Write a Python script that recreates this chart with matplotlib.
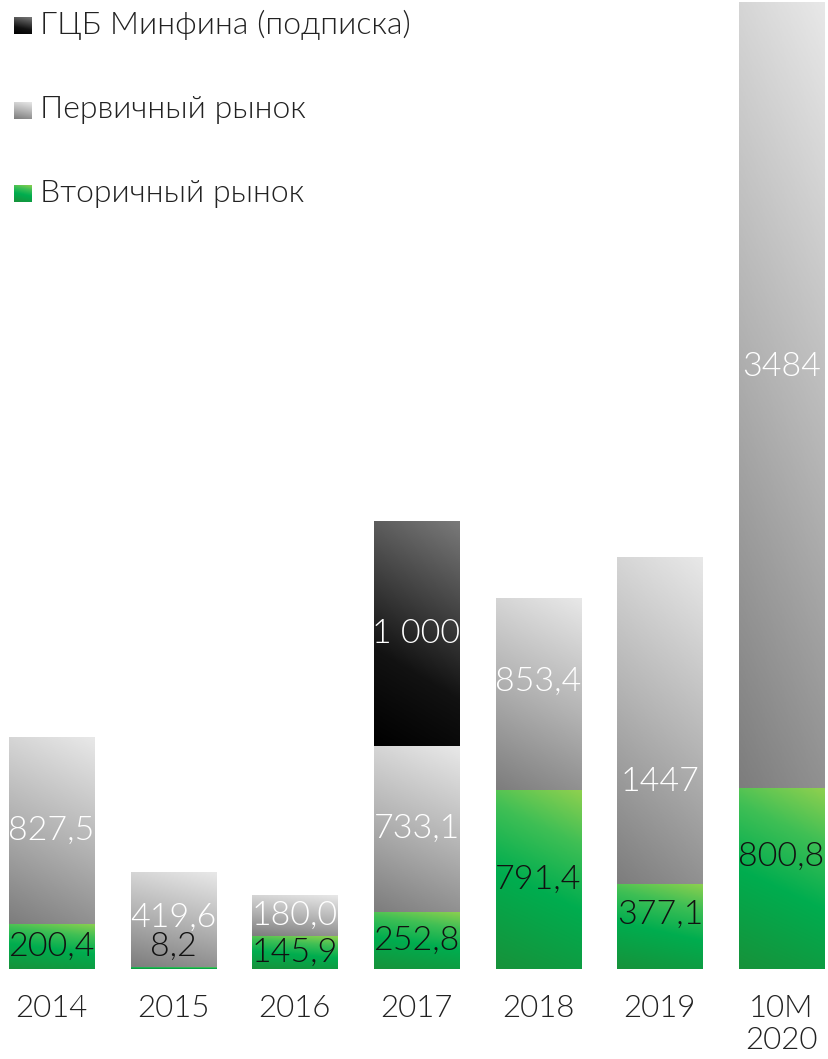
import matplotlib
matplotlib.use("Agg")
import matplotlib.pyplot as plt
import numpy as np
from matplotlib.colors import LinearSegmentedColormap

# данные
years = ["2014", "2015", "2016", "2017", "2018", "2019", "10M\n2020"]
secondary = [200.4, 8.2, 145.9, 252.8, 791.4, 377.1, 800.8]
primary = [827.5, 419.6, 180.0, 733.1, 853.4, 1447, 3484]
minfin = [0, 0, 0, 1000, 0, 0, 0]

sec_labels = ["200,4", "8,2", "145,9", "252,8", "791,4", "377,1", "800,8"]
prim_labels = ["827,5", "419,6", "180,0", "733,1", "853,4", "1447", "3484"]
minfin_labels = ["", "", "", "1 000", "", "", ""]

legend_names = ["ГЦБ Минфина (подписка)", "Первичный рынок", "Вторичный рынок"]

# сдвиг подписей относительно центра сегмента (в единицах данных)
sec_shift = [0, 95, 0, 0, 0, 50, 96]
prim_shift = [0, 8, 0, 0, 54, -272, 124]

plt.rcParams['font.family'] = ['Lato', 'DejaVu Sans']
WT = 300  # Lato Light

cmap_gray = LinearSegmentedColormap.from_list("g", ["#7d7d7d", "#b4b4b4", "#e8e8e8"])
cmap_black = LinearSegmentedColormap.from_list("b", [(0, "#000000"), (0.35, "#121212"), (1, "#7a7a7a")])
cmap_green = LinearSegmentedColormap.from_list(
    "gr", [(0, "#17923a"), (0.45, "#00ad4f"), (0.75, "#3fbf55"), (1, "#8ed04f")])

uu, vv = np.meshgrid(np.linspace(0, 1, 40), np.linspace(0, 1, 200))
grad = np.clip(0.82 * vv + 0.18 * uu, 0, 1)

fig = plt.figure(figsize=(8.29, 10.59), dpi=100)
ax = fig.add_axes([0, 90 / 1059, 1, 969 / 1059])

x = np.arange(len(years))
W = 0.7
XLIM = (-51.5 / 121.67, (829 - 51.5) / 121.67)
YLIM = (0, 4293.5)


def fill_gradient(bars, cmap):
    for p in bars.patches:
        if p.get_height() <= 0:
            continue
        x0, y0 = p.get_x(), p.get_y()
        w, h = p.get_width(), p.get_height()
        p.set_facecolor("none")
        p.set_edgecolor("none")
        im = ax.imshow(grad, extent=[x0, x0 + w, y0, y0 + h], origin="lower",
                       aspect="auto", cmap=cmap, vmin=0, vmax=1, zorder=1)
        im.set_clip_path(p)


b1 = ax.bar(x, secondary, W, color="none")
b2 = ax.bar(x, primary, W, bottom=secondary, color="none")
bottom3 = np.array(secondary) + np.array(primary)
b3 = ax.bar(x, minfin, W, bottom=bottom3, color="none")
fill_gradient(b1, cmap_green)
fill_gradient(b2, cmap_gray)
fill_gradient(b3, cmap_black)

fs = 24.5
for i in range(len(years)):
    ax.text(x[i], secondary[i] / 2 + sec_shift[i], sec_labels[i], ha="center", va="center",
            fontsize=fs, color="#111111", fontweight=WT, zorder=3)
    ax.text(x[i], secondary[i] + primary[i] / 2 + prim_shift[i], prim_labels[i],
            ha="center", va="center", fontsize=fs, color="white", fontweight=WT, zorder=3)
    if minfin[i] > 0:
        ax.text(x[i], bottom3[i] + minfin[i] / 2, minfin_labels[i], ha="center", va="center",
                fontsize=fs, color="white", fontweight=WT, zorder=3)

ax.set_xlim(*XLIM)
ax.set_ylim(*YLIM)
ax.set_xticks(x)
ax.set_xticklabels(years, fontsize=22.5, fontweight=WT, color="#222222", linespacing=1.12)
ax.tick_params(axis="x", length=0, pad=18)
ax.set_yticks([])
for s in ax.spines.values():
    s.set_visible(False)

# легенда
leg_cmaps = [cmap_black, cmap_gray, cmap_green]
leg_y = [25, 110, 193]
for name, cm, yy in zip(legend_names, leg_cmaps, leg_y):
    sq = fig.add_axes([14 / 829, 1 - (yy + 9) / 1059, 18 / 829, 17 / 1059])
    sq.imshow(grad[::5], origin="lower", aspect="auto", cmap=cm, vmin=0, vmax=1)
    sq.axis("off")
    fig.text(40 / 829, 1 - yy / 1059, name, ha="left", va="center", fontsize=23,
             fontweight=WT, color="#222222")

fig.savefig("out.png", dpi=100)
